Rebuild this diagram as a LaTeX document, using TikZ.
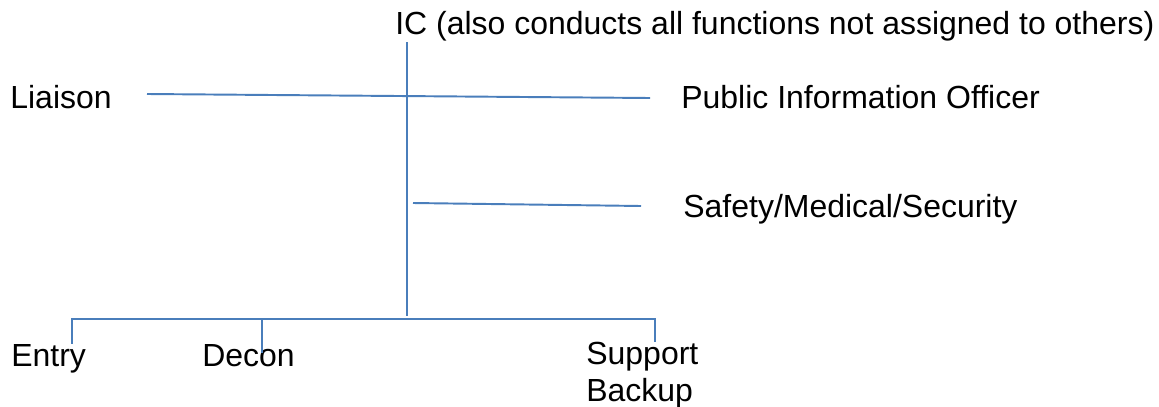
\documentclass[tikz,border=0pt]{standalone}
\usepackage{fontspec}
\setmainfont{Liberation Sans}
\usepackage{tikz}
\definecolor{bleuligne}{HTML}{4A7EBB}

\begin{document}
\begin{tikzpicture}[
    x=0.02cm, y=-0.02cm,
    font=\fontsize{18.2}{21}\selectfont,
    texte/.style={inner sep=0pt, anchor=base west, text=black},
    trait/.style={-, draw=bleuligne, line width=1.1pt}
  ]
    \useasboundingbox (0,0) rectangle (1159,406);

    \node[texte] (ic) at (395,34) {IC (also conducts all functions not assigned to others)};

    \node[texte] (liaison) at (10,108)  {Liaison};
    \node[texte] (pio)     at (681,108) {Public Information Officer};
    \node[texte] (secu)    at (683,217) {Safety/Medical/Security};

    \node[texte] (entry) at (11,366)  {Entry};
    \node[texte] (decon) at (202,366) {Decon};
    \node[texte, anchor=north west, align=left] (support) at (586,342) {Support\\Backup};

    \coordinate (haut) at (407,42);
    \coordinate (bas)  at (407,316);
    \coordinate (l1) at (147,94);
    \coordinate (l2) at (650,98);
    \coordinate (s1) at (413,203);
    \coordinate (s2) at (641,206);
    \coordinate (b1) at (72,319);
    \coordinate (bd) at (262,319);
    \coordinate (b2) at (655,319);
    \coordinate (cd) at (262,353);

    \draw[trait] (haut) -- (bas);
    \draw[trait] (l1) -- (l2);
    \draw[trait] (s1) -- (s2);
    \draw[trait] (b1 |- entry.north) -- (b1) -- (b2) -- (b2 |- support.north);
    \draw[trait] (bd) -- (cd);
  \end{tikzpicture}
\end{document}
